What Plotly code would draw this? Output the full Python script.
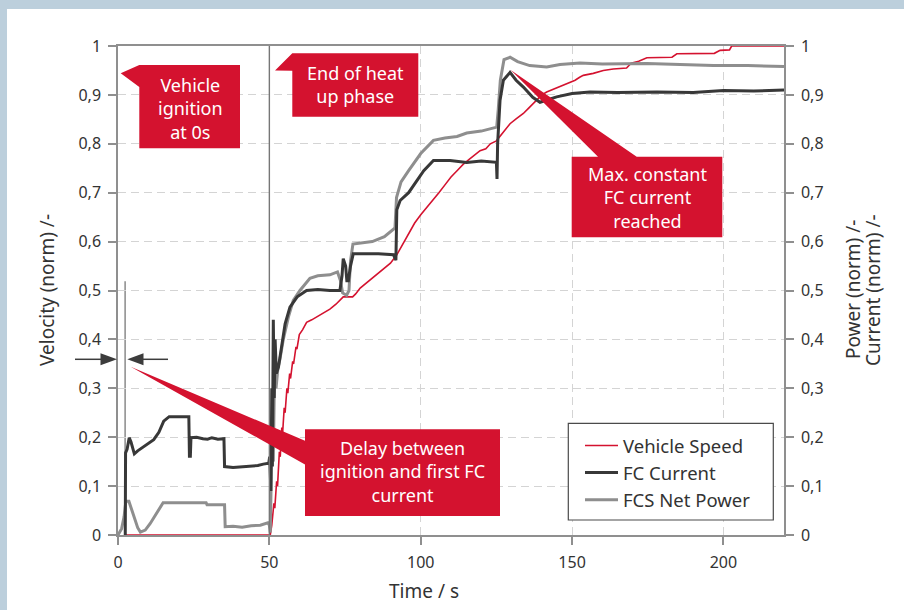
import plotly.graph_objects as go

# ---------------- data (normalised signals) ----------------
speed_t = [2.5, 50.3, 50.8, 51.5, 51.8, 52.4, 52.7, 53.3, 53.6, 54.1, 54.4, 54.9, 55.2, 55.8, 56.1,
           56.7, 57.0, 57.7, 58.0, 58.8, 59.1, 59.9, 61.0, 62.3, 64.0, 66.0, 67.8, 70.0, 72.0, 74.4,
           77.5, 78.5, 80.0, 82.0, 84.0, 86.0, 88.0, 90.0, 92.0, 94.0, 96.0, 98.0, 100.0, 102.0,
           104.1, 106.0, 108.0, 110.0, 112.0, 114.0, 116.0, 118.0, 119.6, 121.5, 123.0, 125.0,
           126.2, 128.0, 129.5, 131.5, 133.9, 135.5, 137.2, 139.0, 140.0, 141.6, 144.0, 145.0,
           147.0, 148.4, 150.0, 151.0, 152.5, 153.7, 157.0, 160.3, 163.6, 168.0, 169.5, 172.0,
           174.7, 183.0, 184.6, 197.0, 198.9, 202.0, 202.7, 220.0]
speed_v = [0.0, 0.0, 0.02, 0.065, 0.055, 0.11, 0.10, 0.17, 0.16, 0.22, 0.21, 0.26, 0.25, 0.30, 0.29,
           0.33, 0.32, 0.355, 0.35, 0.385, 0.38, 0.41, 0.42, 0.435, 0.44, 0.447, 0.453, 0.462, 0.472, 0.487,
           0.487, 0.493, 0.505, 0.515, 0.525, 0.535, 0.545, 0.556, 0.572, 0.595, 0.617, 0.638, 0.655, 0.67,
           0.684, 0.70, 0.716, 0.732, 0.745, 0.758, 0.768, 0.778, 0.786, 0.79, 0.80, 0.806,
           0.815, 0.83, 0.841, 0.851, 0.862, 0.872, 0.882, 0.893, 0.90, 0.906, 0.912, 0.916,
           0.92, 0.923, 0.928, 0.93, 0.936, 0.94, 0.944, 0.95, 0.953, 0.955, 0.965, 0.969,
           0.976, 0.977, 0.984, 0.985, 0.991, 0.992, 1.0, 1.0]

current_t = [2.4, 2.5, 3.0, 3.7, 4.3, 5.4, 6.5, 8.5, 11.8, 13.5, 15.1, 16.9, 20.0, 23.4, 23.6, 23.9,
             24.1, 26.0, 28.0, 29.6, 31.0, 33.0, 35.0, 35.2, 38.0, 41.8, 44.0, 46.2, 48.0, 49.8,
             50.1, 50.3, 50.5, 50.8, 51.0, 51.3, 51.6, 51.9, 52.3, 53.0, 54.1, 55.2, 56.8, 59.2,
             62.3, 66.0, 70.0, 73.3, 74.0, 74.4, 75.2, 75.6, 76.1, 76.8, 77.7, 82.0, 86.0, 91.0,
             91.8, 92.1, 93.2, 96.0, 98.7, 101.0, 104.2, 109.7, 115.2, 120.0, 125.0, 125.2, 125.4,
             126.2, 127.3, 129.5, 131.5, 133.9, 137.0, 139.4, 142.0, 144.9, 150.0, 155.9, 165.0,
             178.0, 190.0, 200.0, 210.0, 220.0]
current_v = [0.0, 0.168, 0.175, 0.199, 0.19, 0.166, 0.172, 0.18, 0.195, 0.21, 0.233, 0.242, 0.242, 0.242, 0.161, 0.161,
             0.199, 0.20, 0.197, 0.196, 0.199, 0.196, 0.197, 0.14, 0.138, 0.14, 0.14, 0.142, 0.145, 0.147,
             0.16, 0.12, 0.09, 0.30, 0.14, 0.44, 0.28, 0.40, 0.33, 0.343, 0.384, 0.432, 0.466, 0.487,
             0.50, 0.502, 0.50, 0.50, 0.53, 0.565, 0.55, 0.52, 0.52, 0.55, 0.575, 0.575, 0.575, 0.573,
             0.562, 0.665, 0.684, 0.70, 0.725, 0.745, 0.766, 0.766, 0.762, 0.765, 0.762, 0.728, 0.80,
             0.889, 0.93, 0.946, 0.93, 0.916, 0.895, 0.885, 0.89, 0.896, 0.903, 0.906, 0.905,
             0.906, 0.905, 0.909, 0.908, 0.91]

power_t = [0.0, 1.2, 2.0, 2.6, 3.6, 5.0, 6.5, 7.4, 9.0, 10.6, 13.3, 14.9, 29.1, 29.4, 35.2, 35.4,
           38.0, 41.0, 44.0, 47.0, 49.5, 50.0, 50.3, 50.6, 51.0, 51.3, 51.7, 52.2, 52.8, 53.5, 54.6,
           56.3, 57.9, 60.1, 63.4, 66.0, 70.0, 72.5, 73.5, 74.2, 75.5, 76.3, 76.8, 77.6, 80.0, 84.0,
           88.0, 91.5, 92.0, 92.5, 93.5, 96.0, 100.0, 104.2, 108.0, 112.0, 115.2, 120.0, 125.1,
           125.6, 126.3, 127.5, 129.5, 132.0, 136.0, 141.6, 146.0, 152.6, 160.0, 174.7, 185.0,
           196.7, 208.0, 220.0]
power_v = [0.0, 0.013, 0.037, 0.069, 0.069, 0.045, 0.015, 0.006, 0.01, 0.023, 0.05, 0.066, 0.066, 0.062, 0.062, 0.017,
           0.018, 0.016, 0.019, 0.02, 0.025, 0.02, 0.005, 0.09, 0.25, 0.15, 0.33, 0.30, 0.34, 0.36, 0.40,
           0.446, 0.48, 0.50, 0.525, 0.53, 0.532, 0.538, 0.52, 0.495, 0.49, 0.50, 0.56, 0.595, 0.597, 0.60,
           0.61, 0.628, 0.69, 0.70, 0.722, 0.745, 0.78, 0.807, 0.812, 0.815, 0.822, 0.826, 0.834,
           0.87, 0.93, 0.972, 0.977, 0.968, 0.96, 0.957, 0.962, 0.965, 0.963, 0.964, 0.962,
           0.96, 0.96, 0.958]

x_ticks = [0, 50, 100, 150, 200]
y_ticks = [0, 0.1, 0.2, 0.3, 0.4, 0.5, 0.6, 0.7, 0.8, 0.9, 1]
y_tick_text = ["0", "0,1", "0,2", "0,3", "0,4", "0,5", "0,6", "0,7", "0,8", "0,9", "1"]

ignition_t = 2.35      # first FC current
heatup_end_t = 50.0    # end of heat up phase
ignition_marker_top = 0.519

# ---------------- styling ----------------
RED = "#d4122f"
DARK = "#383838"
GREY = "#8e8e8e"
AXIS = "#8f8f8f"
FONT = "Noto Sans"
W_FIG, H_FIG = 904, 610
L, T, R, B = 118, 46, 120, 75
PW, PH = W_FIG - L - R, H_FIG - T - B


def px(x):
    return (x - L) / PW


def py(y):
    return (T + PH - y) / PH


def path(points):
    return "M " + " L ".join(f"{px(x):.5f},{py(y):.5f}" for x, y in points) + " Z"


fig = go.Figure()
fig.add_trace(go.Scatter(x=power_t, y=power_v, name="FCS Net Power", mode="lines",
                         line=dict(color=GREY, width=3), yaxis="y2", legendrank=3))
fig.add_trace(go.Scatter(x=current_t, y=current_v, name="FC Current", mode="lines",
                         line=dict(color=DARK, width=3), yaxis="y2", legendrank=2))
fig.add_trace(go.Scatter(x=speed_t, y=speed_v, name="Vehicle Speed", mode="lines",
                         line=dict(color=RED, width=1.6), legendrank=1))

shapes = []
# outer frame strips
shapes.append(dict(type="rect", xref="paper", yref="paper", x0=px(0), x1=px(7), y0=py(H_FIG), y1=py(0),
                   fillcolor="#bccfdc", line=dict(width=0), layer="above"))
shapes.append(dict(type="rect", xref="paper", yref="paper", x0=px(0), x1=px(W_FIG), y0=py(9), y1=py(0),
                   fillcolor="#bccfdc", line=dict(width=0), layer="above"))
# phase markers
shapes.append(dict(type="line", xref="x", yref="y", x0=heatup_end_t, x1=heatup_end_t, y0=0, y1=1,
                   line=dict(color="#767676", width=1.4), layer="above"))
shapes.append(dict(type="line", xref="x", yref="y", x0=ignition_t, x1=ignition_t, y0=0, y1=ignition_marker_top,
                   line=dict(color="#8a8a8a", width=1.5), layer="below"))
# delay arrows
ay = 359.3
shapes.append(dict(type="line", xref="paper", yref="paper", x0=px(75), x1=px(104), y0=py(ay), y1=py(ay),
                   line=dict(color="#3c3c3c", width=1.5)))
shapes.append(dict(type="path", xref="paper", yref="paper",
                   path=path([(100.5, ay - 6), (117, ay), (100.5, ay + 6)]),
                   fillcolor="#3c3c3c", line=dict(width=0)))
shapes.append(dict(type="line", xref="paper", yref="paper", x0=px(140), x1=px(168), y0=py(ay), y1=py(ay),
                   line=dict(color="#3c3c3c", width=1.5)))
shapes.append(dict(type="path", xref="paper", yref="paper",
                   path=path([(143.5, ay - 6), (127.3, ay), (143.5, ay + 6)]),
                   fillcolor="#3c3c3c", line=dict(width=0)))
# callouts
callouts = [
    [(120.7, 73.3), (139.3, 65), (240, 65), (240, 148.3), (139.3, 148.3), (139.3, 87)],
    [(275, 70.5), (292.3, 53.3), (418.3, 53.3), (418.3, 116.7), (292.3, 116.7), (292.3, 70.7)],
    [(571.7, 156.7), (598, 156.7), (510.7, 70), (636.7, 156.7), (722.3, 156.7), (722.3, 237.3), (571.7, 237.3)],
    [(130.7, 366.7), (305, 440.8), (305, 429.3), (500, 429.3), (500, 516), (305, 516), (305, 464.4)],
]
for pts in callouts:
    shapes.append(dict(type="path", xref="paper", yref="paper", path=path(pts),
                       fillcolor=RED, line=dict(width=0), layer="above"))
# legend frame
shapes.append(dict(type="rect", xref="paper", yref="paper", x0=px(568.3), x1=px(773.3), y0=py(520), y1=py(423.3),
                   fillcolor="white", line=dict(color="#4a4a4a", width=1.2), layer="above"))

annotations = []
callout_text = [
    (190, 108.5, "Vehicle<br>ignition<br>at 0s"),
    (355.3, 84.3, "End of heat<br>up phase"),
    (647, 197.5, "Max. constant<br>FC current<br>reached"),
    (402.5, 471, "Delay between<br>ignition and first FC<br>current"),
]
for cx, cy, txt in callout_text:
    annotations.append(dict(text=txt, xref="paper", yref="paper", x=px(cx), y=py(cy),
                            xanchor="center", yanchor="middle", showarrow=False, align="center",
                            font=dict(family=FONT, size=18, color="white")))
# axis titles
title_font = dict(family=FONT, size=19, color="#333333")
annotations.append(dict(text="Time / s", xref="paper", yref="paper", x=px(424), y=py(591),
                        xanchor="center", yanchor="middle", showarrow=False, font=title_font))
annotations.append(dict(text="Velocity (norm) /-", xref="paper", yref="paper", x=px(47), y=py(290),
                        xanchor="center", yanchor="middle", showarrow=False, textangle=-90, font=title_font))
annotations.append(dict(text="Power (norm) /-", xref="paper", yref="paper", x=px(853), y=py(290),
                        xanchor="center", yanchor="middle", showarrow=False, textangle=-90, font=title_font))
annotations.append(dict(text="Current (norm) /-", xref="paper", yref="paper", x=px(873), y=py(290),
                        xanchor="center", yanchor="middle", showarrow=False, textangle=-90, font=title_font))

tick_font = dict(family=FONT, size=16, color="#333333")
axis_common = dict(showline=True, linecolor=AXIS, linewidth=1.5, ticks="outside", ticklen=8,
                   tickwidth=1.5, tickcolor=AXIS, tickfont=tick_font, zeroline=False,
                   layer="below traces", ticklabelstandoff=4)

fig.update_layout(
    width=W_FIG, height=H_FIG,
    margin=dict(l=L, r=R, t=T, b=B, pad=0),
    paper_bgcolor="white", plot_bgcolor="white",
    separators=", ",
    showlegend=True,
    legend=dict(x=px(580), y=py(427), xanchor="left", yanchor="top", bgcolor="rgba(0,0,0,0)",
                borderwidth=0, font=dict(family=FONT, size=18.5, color="#333333"), itemwidth=33,
                tracegroupgap=0),
    xaxis=dict(range=[0, 220], tickvals=x_ticks, mirror=True, showgrid=True,
               gridcolor="#d4d4d4", gridwidth=1.2, griddash="8px,5px", **axis_common),
    yaxis=dict(range=[0, 1], tickvals=y_ticks, ticktext=y_tick_text, showgrid=True,
               gridcolor="#d4d4d4", gridwidth=1.2, griddash="8px,5px", **axis_common),
    yaxis2=dict(range=[0, 1], tickvals=y_ticks, ticktext=y_tick_text, overlaying="y", side="right",
                showgrid=False, **axis_common),
    shapes=shapes,
    annotations=annotations,
    hovermode=False,
)

fig.write_html("out.html", config={"displayModeBar": False})
